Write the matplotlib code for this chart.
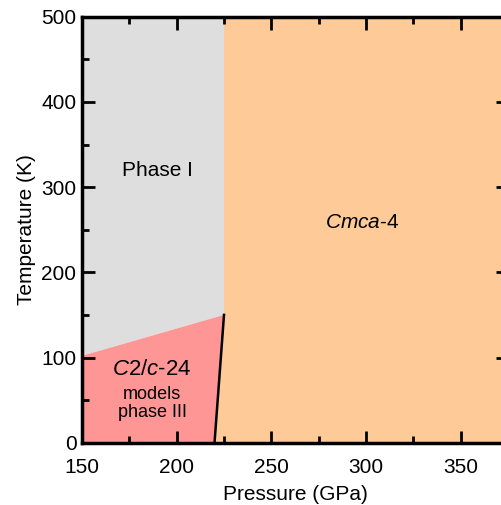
import matplotlib
matplotlib.use('Agg')
import matplotlib.pyplot as plt
from matplotlib.ticker import MultipleLocator

plt.rcParams['font.family'] = ['Liberation Sans', 'DejaVu Sans']
plt.rcParams['mathtext.fontset'] = 'custom'
plt.rcParams['mathtext.rm'] = 'Liberation Sans'
plt.rcParams['mathtext.it'] = 'Liberation Sans:italic'

# phase boundaries (pressure in GPa, temperature in K)
p_min, p_max = 150, 375
t_min, t_max = 0, 500
p_melt_line = [220, 225]      # C2/c-24 -> Cmca-4 boundary, bottom to top
t_melt_line = [0, 150]
p_upper = [150, 225]          # phase I / phase III boundary
t_upper = [102, 150]

region_labels = ['Phase I', r'$\mathit{Cmca}$-4', r'$\mathit{C}$2/$\mathit{c}$-24', 'models\nphase III']
label_p = [190, 298, 187, 187]
label_t = [320, 258, 86, 46]

col_grey = '#dedede'
col_orange = '#fdca98'
col_red = '#fe9696'

fig = plt.figure(figsize=(5.02, 5.05), dpi=100)
ax = fig.add_axes([82 / 502, 1 - 442.7 / 505, (508 - 82) / 502, (442.7 - 16.7) / 505])

# phase I (grey) fills everything left of 225 GPa above the III line
ax.fill([p_min, p_upper[0], p_upper[1], p_upper[1], p_min],
        [t_max, t_upper[0], t_upper[1], t_max, t_max], color=col_grey, lw=0)
# phase III
ax.fill([p_min, p_melt_line[0], p_melt_line[1], p_upper[0]],
        [t_min, t_melt_line[0], t_melt_line[1], t_upper[0]], color=col_red, lw=0)
# Cmca-4
ax.fill([p_melt_line[0], p_max, p_max, p_upper[1], p_melt_line[1]],
        [t_min, t_min, t_max, t_max, t_melt_line[1]], color=col_orange, lw=0)
ax.plot(p_melt_line, t_melt_line, color='black', lw=1.8)

ax.set_xlim(p_min, p_max)
ax.set_ylim(t_min, t_max)
ax.xaxis.set_major_locator(MultipleLocator(50))
ax.xaxis.set_minor_locator(MultipleLocator(25))
ax.yaxis.set_major_locator(MultipleLocator(100))
ax.yaxis.set_minor_locator(MultipleLocator(50))
ax.tick_params(which='both', direction='in', top=True, right=True,
               labelsize=15, width=2)
ax.tick_params(axis='x', pad=11)
ax.tick_params(axis='y', pad=4)
ax.tick_params(which='major', length=9)
ax.tick_params(which='minor', length=5)
for s in ax.spines.values():
    s.set_linewidth(2.5)

ax.set_xlabel('Pressure (GPa)', fontsize=15, labelpad=6)
ax.set_ylabel('Temperature (K)', fontsize=15, labelpad=4)

ax.text(label_p[0], label_t[0], region_labels[0], fontsize=15, ha='center', va='center')
ax.text(label_p[1], label_t[1], region_labels[1], fontsize=15, ha='center', va='center')
ax.text(label_p[2], label_t[2], region_labels[2], fontsize=16, ha='center', va='center')
ax.text(label_p[3], label_t[3], region_labels[3], fontsize=13, ha='center', va='center',
        linespacing=1.05)

fig.savefig('out.png', dpi=100)
